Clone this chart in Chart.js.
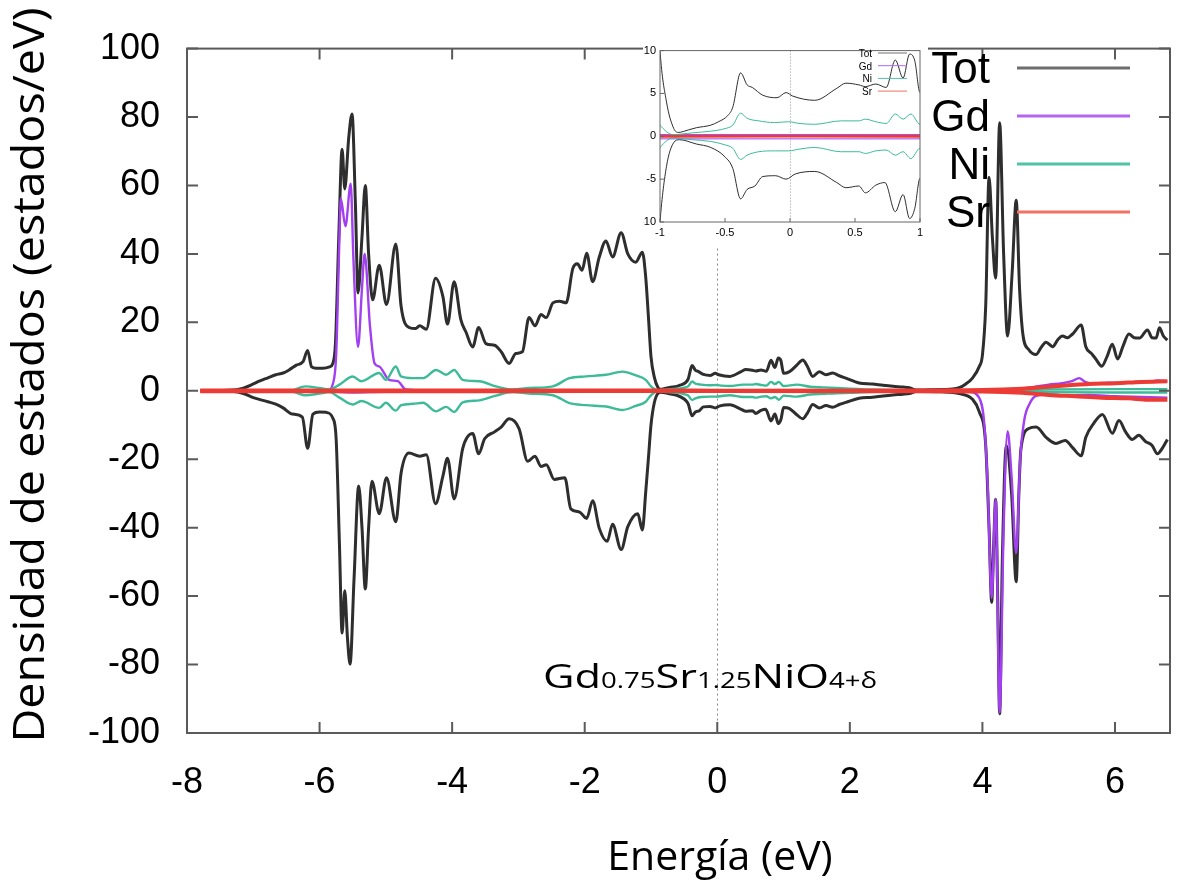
<!DOCTYPE html>
<html>
<head>
<meta charset="utf-8">
<title>Densidad de estados</title>
<script src="https://cdn.jsdelivr.net/npm/chart.js@4.4.1/dist/chart.umd.min.js"></script>
<style>
  html, body { margin: 0; padding: 0; background: #fff; }
  #wrap { position: relative; width: 1180px; height: 894px; }
  #inset { position: absolute; left: 643px; top: 40px; width: 285px; height: 208px; overflow: hidden; background: #fff; z-index: 2; }
</style>
</head>
<body>
<div id="wrap">
  <canvas id="dos" width="1180" height="894"></canvas>
  <div id="inset"><canvas id="zoom" width="285" height="208"></canvas></div>
</div>
<script>
// Spin-polarised DOS of Gd0.75Sr1.25NiO4+d: [energy (eV), states/eV]

const seriesNames = ['Tot', 'Gd', 'Ni', 'Sr'];
const lineColors = ['#2e2e2e', '#a23ff0', '#3dbb98', '#ec3b35'];
const keyColors = ['#6e6e6e', '#b466f2', '#4fc3a4', '#f27064'];

const totUp = [[-7.8, 0], [-7.3, 0.2], [-7.15, 0.8], [-7.0, 2.0], [-6.91, 2.8], [-6.78, 3.8], [-6.66, 4.7],
  [-6.55, 5.2], [-6.46, 6.1], [-6.35, 7.5], [-6.25, 8.5], [-6.18, 11.8], [-6.12, 7.0], [-6.05, 6.6],
  [-5.95, 6.6], [-5.85, 7.0], [-5.80, 8.0], [-5.76, 14], [-5.71, 45], [-5.66, 70.6], [-5.62, 59],
  [-5.56, 74], [-5.51, 80.9], [-5.46, 55], [-5.42, 28.6], [-5.36, 45], [-5.31, 60], [-5.26, 40],
  [-5.20, 26.6], [-5.10, 36.7], [-4.99, 25.2], [-4.85, 42.9], [-4.77, 24.7], [-4.65, 18.5], [-4.55, 18.2],
  [-4.49, 19.0], [-4.39, 18.0], [-4.25, 32.9], [-4.14, 27.6], [-4.07, 19.5], [-3.97, 31.9], [-3.87, 20.9],
  [-3.79, 17.1], [-3.69, 12.8], [-3.60, 18.5], [-3.49, 13.8], [-3.36, 13.3], [-3.26, 11.4], [-3.14, 8.0],
  [-3.04, 10.9], [-2.94, 11.4], [-2.84, 21.4], [-2.75, 19.0], [-2.66, 22.3], [-2.58, 21.4], [-2.48, 25.7],
  [-2.38, 26.2], [-2.28, 25.7], [-2.18, 35.7], [-2.11, 37.1], [-2.04, 35.2], [-1.97, 40.2], [-1.88, 31.9],
  [-1.78, 39.1], [-1.68, 43.8], [-1.58, 39.1], [-1.45, 46.2], [-1.35, 40.0], [-1.23, 37.6], [-1.13, 40.5],
  [-1.08, 33.3], [-1.04, 22], [-1.00, 10], [-0.95, 4], [-0.895, 0.94], [-0.86, 0.45], [-0.78, 0.75],
  [-0.72, 1.0], [-0.61, 1.3], [-0.55, 1.7], [-0.48, 2.4], [-0.44, 3.4], [-0.38, 7.4], [-0.33, 6.0],
  [-0.29, 5.7], [-0.21, 4.8], [-0.10, 4.5], [-0.03, 5.1], [0.02, 4.7], [0.19, 4.2], [0.36, 5.6], [0.43, 6.2],
  [0.53, 6.0], [0.58, 5.8], [0.66, 6.1], [0.74, 5.7], [0.81, 8.9], [0.87, 6.8], [0.92, 9.6], [0.96, 8.8],
  [1.00, 5.1], [1.09, 5.6], [1.20, 7.5], [1.29, 9.0], [1.36, 7.1], [1.44, 4.2], [1.54, 5.6], [1.64, 4.7],
  [1.74, 5.2], [1.84, 4.4], [1.94, 3.7], [2.14, 2.3], [2.34, 2.0], [2.50, 1.6], [2.65, 1.3], [2.80, 1.1],
  [2.90, 0.9], [3.00, 0.2], [3.20, 0.3], [3.40, 0.4], [3.55, 0.5], [3.65, 0.9], [3.75, 2.0], [3.85, 3.7],
  [3.95, 7.0], [4.00, 10.4], [4.05, 25], [4.10, 62.4], [4.15, 45], [4.20, 32.9], [4.26, 78.3], [4.32, 40],
  [4.38, 16.0], [4.45, 35], [4.51, 55.7], [4.56, 30], [4.61, 16.6], [4.70, 12], [4.81, 10.6], [4.88, 12.5],
  [4.96, 14.2], [5.06, 12.9], [5.14, 15], [5.21, 16.0], [5.28, 15.5], [5.36, 16.6], [5.49, 19.2], [5.56, 12.9],
  [5.64, 11], [5.71, 9.3], [5.80, 7.2], [5.88, 10], [5.96, 13.6], [6.04, 9.3], [6.12, 13], [6.21, 16.6],
  [6.29, 15.5], [6.37, 15.4], [6.49, 17.8], [6.56, 15.5], [6.62, 15.4], [6.67, 18.4], [6.73, 16], [6.79, 14.8]];

const totDown = [[-7.8, 0], [-7.3, -0.2], [-7.15, -0.8], [-7.0, -2.0], [-6.91, -2.5], [-6.78, -3.2],
  [-6.66, -3.9], [-6.55, -5.0], [-6.41, -6.8], [-6.26, -7.7], [-6.18, -16.8], [-6.10, -6.8], [-6.00, -6.2],
  [-5.90, -6.3], [-5.80, -8], [-5.75, -14], [-5.70, -45], [-5.66, -70.8], [-5.62, -58.4], [-5.58, -72],
  [-5.54, -79.9], [-5.48, -55], [-5.41, -27.8], [-5.36, -40], [-5.31, -57.9], [-5.26, -40], [-5.21, -26.4],
  [-5.10, -35.9], [-4.99, -25.4], [-4.85, -38.3], [-4.77, -24.0], [-4.65, -18.2], [-4.49, -19.1],
  [-4.39, -18.7], [-4.25, -33.0], [-4.14, -25], [-4.07, -19.7], [-3.97, -31.6], [-3.84, -16.8],
  [-3.69, -12.5], [-3.60, -18.4], [-3.51, -14], [-3.36, -12.0], [-3.26, -10.6], [-3.14, -8.2],
  [-2.99, -11.1], [-2.86, -20.6], [-2.75, -19.1], [-2.66, -22.1], [-2.58, -21.6], [-2.46, -25.9],
  [-2.30, -25.4], [-2.21, -34.5], [-2.08, -35.4], [-1.97, -37.3], [-1.88, -32.1], [-1.78, -40.2],
  [-1.66, -44], [-1.58, -39], [-1.45, -46.4], [-1.35, -39.7], [-1.20, -35.9], [-1.13, -40.7],
  [-1.08, -29.7], [-1.04, -20], [-1.00, -10], [-0.95, -3.5], [-0.895, -0.75], [-0.85, -0.4], [-0.72, -0.9],
  [-0.61, -1.3], [-0.50, -2.4], [-0.44, -3.75], [-0.38, -7.3], [-0.33, -6.2], [-0.27, -5.8], [-0.21, -4.7],
  [-0.11, -4.6], [-0.03, -5.0], [0.04, -4.4], [0.19, -4.1], [0.36, -5.4], [0.43, -6.0], [0.53, -5.8],
  [0.58, -6.6], [0.66, -5.7], [0.73, -5.4], [0.81, -8.8], [0.87, -6.8], [0.92, -9.6], [0.96, -8.4],
  [1.00, -4.9], [1.09, -5.2], [1.20, -7.0], [1.29, -8.2], [1.36, -6.5], [1.44, -4.0], [1.54, -5.0],
  [1.64, -4.3], [1.74, -4.8], [1.84, -4.0], [1.94, -3.4], [2.14, -2.2], [2.34, -1.9], [2.50, -1.5],
  [2.65, -1.2], [2.80, -1.0], [2.90, -0.8], [3.00, -0.2], [3.40, -0.3], [3.65, -0.8], [3.85, -2.5],
  [3.95, -6], [4.05, -16], [4.10, -40], [4.14, -61.8], [4.17, -45], [4.20, -31.7], [4.23, -60], [4.26, -94.4],
  [4.30, -50], [4.36, -16], [4.44, -30], [4.51, -55.8], [4.55, -30], [4.58, -17.2], [4.70, -11], [4.81, -10.6],
  [4.96, -13.6], [5.11, -15.4], [5.25, -14.5], [5.36, -16.6], [5.49, -19], [5.56, -13.6], [5.68, -9.5],
  [5.81, -6.9], [5.96, -12.4], [6.06, -8.7], [6.16, -12], [6.26, -14.2], [6.36, -13], [6.46, -14.8],
  [6.56, -16], [6.64, -18.4], [6.72, -16.6], [6.79, -14.2]];

const gdUp = [[-7.8, 0], [-5.88, 0], [-5.80, 2], [-5.75, 10.4], [-5.70, 45], [-5.68, 56.2], [-5.61, 48.1],
  [-5.53, 60.5], [-5.49, 39], [-5.42, 12.8], [-5.36, 30], [-5.32, 40], [-5.24, 19], [-5.17, 8.0],
  [-5.10, 7.1], [-4.95, 3.2], [-4.82, 2.8], [-4.70, 0.4], [-4.50, 0.2], [3.90, 0.2], [4.50, 0.5],
  [4.80, 1.2], [5.00, 1.8], [5.20, 2.2], [5.35, 2.8], [5.46, 3.7], [5.55, 2.6], [5.70, 2.0], [5.90, 2.4],
  [6.10, 2.2], [6.30, 2.6], [6.50, 2.7], [6.65, 3.0], [6.79, 2.8]];

const gdDown = [[-7.8, 0], [-5.8, -0.3], [-5.5, -0.5], [-5.0, -0.3], [3.80, -0.3], [3.95, -2], [4.03, -10],
  [4.08, -28], [4.14, -60.6], [4.20, -31.7], [4.26, -94], [4.32, -40], [4.38, -11.8], [4.44, -25],
  [4.51, -47.4], [4.57, -20], [4.63, -8.7], [4.72, -3.5], [4.81, -1.5], [5.00, -1.0], [5.30, -1.4],
  [5.60, -1.2], [6.00, -1.6], [6.40, -1.8], [6.79, -2.0]];

const niUp = [[-7.8, 0], [-6.46, 0], [-6.21, 1.3], [-6.00, 0.8], [-5.85, 0.4], [-5.70, 1.8], [-5.50, 4.2],
  [-5.37, 2.8], [-5.10, 5.2], [-5.00, 3.2], [-4.85, 7.1], [-4.77, 4.2], [-4.59, 3.7], [-4.44, 3.7],
  [-4.24, 6.1], [-4.09, 4.7], [-3.97, 6.1], [-3.84, 3.2], [-3.59, 2.8], [-3.34, 1.3], [-3.09, 0.4],
  [-2.84, 0.8], [-2.48, 1.3], [-2.23, 3.7], [-1.98, 4.2], [-1.68, 4.7], [-1.43, 5.6], [-1.23, 4.5],
  [-1.08, 3.2], [-1.00, 1.3], [-0.90, 0.2], [-0.75, 0.4], [-0.61, 0.6], [-0.50, 0.9], [-0.44, 1.3],
  [-0.38, 2.7], [-0.33, 2.1], [-0.24, 1.8], [-0.12, 1.6], [-0.01, 1.7], [0.07, 1.5], [0.19, 1.4],
  [0.39, 1.8], [0.53, 1.8], [0.58, 2.0], [0.66, 1.7], [0.74, 1.5], [0.81, 2.6], [0.87, 2.0], [0.93, 2.6],
  [1.00, 1.4], [1.20, 1.8], [1.40, 1.2], [1.60, 1.0], [1.80, 0.8], [2.00, 0.6], [2.40, 0.3], [3.00, 0.1],
  [4.00, 0.1], [5.00, 0.4], [6.00, 0.5], [6.79, 0.5]];

const niDown = [[-7.8, 0], [-6.46, 0], [-6.21, -1.3], [-6.00, -0.8], [-5.85, -0.4], [-5.70, -2.0],
  [-5.50, -4.0], [-5.37, -3.0], [-5.10, -5.0], [-5.00, -3.5], [-4.85, -5.8], [-4.77, -4.2], [-4.59, -3.8],
  [-4.44, -3.5], [-4.24, -6.0], [-4.09, -4.7], [-3.97, -6.2], [-3.84, -3.4], [-3.59, -2.8], [-3.34, -1.4],
  [-3.09, -0.4], [-2.84, -0.8], [-2.48, -1.3], [-2.23, -3.6], [-1.98, -4.2], [-1.68, -4.6], [-1.43, -5.6],
  [-1.23, -4.4], [-1.08, -3.2], [-1.00, -1.3], [-0.90, -0.2], [-0.75, -0.4], [-0.61, -0.6], [-0.50, -1.0],
  [-0.44, -1.4], [-0.38, -2.7], [-0.33, -2.2], [-0.24, -1.8], [-0.12, -1.7], [-0.01, -1.7], [0.07, -1.5],
  [0.19, -1.3], [0.39, -1.8], [0.53, -1.8], [0.58, -2.0], [0.66, -1.7], [0.74, -1.6], [0.81, -2.2],
  [0.87, -1.8], [0.93, -2.6], [1.00, -1.4], [1.20, -1.7], [1.40, -1.1], [1.60, -0.9], [1.80, -0.7],
  [2.00, -0.6], [2.40, -0.3], [3.00, -0.1], [4.00, -0.1], [5.00, -0.4], [6.00, -0.5], [6.79, -0.5]];

const srUp = [[-7.8, 0.1], [-4.0, 0.1], [0.0, 0.05], [3.0, 0.1], [4.0, 0.2], [4.6, 0.6], [5.0, 1.2],
  [5.3, 1.6], [5.6, 2.0], [6.0, 2.2], [6.4, 2.6], [6.79, 2.8]];

const srDown = [[-7.8, -0.1], [-4.0, -0.1], [0.0, -0.05], [3.0, -0.1], [4.0, -0.2], [4.6, -0.6], [5.0, -1.2],
  [5.4, -1.6], [5.8, -2.0], [6.2, -2.2], [6.5, -2.6], [6.79, -2.6]];

const formula = [['Gd', 'big'], ['0.75', 'sub'], ['Sr', 'big'], ['1.25', 'sub'], ['NiO', 'big'], ['4+δ', 'sub']];

const series = [
  { up: totUp, down: totDown, order: 3 },
  { up: gdUp, down: gdDown, order: 2 },
  { up: niUp, down: niDown, order: 1 },
  { up: srUp, down: srDown, order: 0 }
];

function makeSets(widths) {
  const sets = [];
  series.forEach((s, i) => {
    [s.up, s.down].forEach(pts => sets.push({
      label: seriesNames[i],
      data: pts.map(([x, y]) => ({ x, y })),
      borderColor: lineColors[i],
      borderWidth: widths[i],
      pointRadius: 0,
      fill: false,
      cubicInterpolationMode: 'monotone',
      order: s.order
    }));
  });
  return sets;
}

// box round the plot with inward ticks, gnuplot style
const framePlugin = {
  id: 'frame',
  afterDatasetsDraw(chart, args, o) {
    const { ctx, chartArea: a, scales: { x, y } } = chart;
    ctx.save();
    ctx.strokeStyle = o.color;
    ctx.lineWidth = o.width;
    ctx.strokeRect(a.left, a.top, a.right - a.left, a.bottom - a.top);
    ctx.beginPath();
    x.ticks.forEach(t => {
      const px = x.getPixelForValue(t.value);
      ctx.moveTo(px, a.bottom); ctx.lineTo(px, a.bottom - o.tick);
      if (o.mirror) { ctx.moveTo(px, a.top); ctx.lineTo(px, a.top + o.tick); }
    });
    y.ticks.forEach(t => {
      const py = y.getPixelForValue(t.value);
      ctx.moveTo(a.left, py); ctx.lineTo(a.left + o.tick, py);
      if (o.mirror) { ctx.moveTo(a.right, py); ctx.lineTo(a.right - o.tick, py); }
    });
    ctx.stroke();
    ctx.restore();
  }
};

// dotted Fermi level
const fermiPlugin = {
  id: 'fermi',
  beforeDatasetsDraw(chart, args, o) {
    const { ctx, chartArea: a, scales: { x } } = chart;
    const px = Math.round(x.getPixelForValue(0)) + 0.5;
    ctx.save();
    ctx.strokeStyle = o.color;
    ctx.lineWidth = 1;
    ctx.setLineDash(o.dash);
    ctx.beginPath();
    ctx.moveTo(px, a.top);
    ctx.lineTo(px, a.bottom);
    ctx.stroke();
    ctx.restore();
  }
};

// key: label right-aligned, sample line on its right
const keyPlugin = {
  id: 'key',
  afterDraw(chart, args, o) {
    const ctx = chart.ctx;
    ctx.save();
    ctx.font = o.font;
    ctx.textAlign = 'right';
    ctx.textBaseline = 'alphabetic';
    seriesNames.forEach((name, i) => {
      const y = o.top + i * o.gap;
      ctx.fillStyle = '#000';
      ctx.fillText(name, o.textRight, y + o.baseline);
      ctx.strokeStyle = keyColors[i];
      ctx.lineWidth = o.lineWidth;
      ctx.beginPath();
      ctx.moveTo(o.x0, y);
      ctx.lineTo(o.x1, y);
      ctx.stroke();
    });
    ctx.restore();
  }
};

const labelsPlugin = {
  id: 'labels',
  afterDraw(chart) {
    const ctx = chart.ctx;
    ctx.save();
    ctx.fillStyle = '#000';

    // x title
    ctx.font = '41px "Open Sans"';
    ctx.textAlign = 'center';
    ctx.textBaseline = 'middle';
    ctx.fillText('Energía (eV)', 720, 858);

    // y title, stretched to the length it has in the figure
    const yTitle = 'Densidad de estados (estados/eV)';
    ctx.font = '43px "Open Sans"';
    const w = ctx.measureText(yTitle).width;
    ctx.save();
    ctx.translate(44, 375);
    ctx.rotate(-Math.PI / 2);
    ctx.scale(735 / w, 1);
    ctx.textBaseline = 'alphabetic';
    ctx.fillText(yTitle, 0, 0);
    ctx.restore();

    // compound formula with subscripts
    const fonts = { big: '33px "Open Sans"', sub: '21px "Open Sans"' };
    let total = 0;
    formula.forEach(([txt, k]) => { ctx.font = fonts[k]; total += ctx.measureText(txt).width; });
    ctx.save();
    ctx.translate(543, 688);
    ctx.scale(334 / total, 1);
    ctx.textAlign = 'left';
    ctx.textBaseline = 'alphabetic';
    let cx = 0;
    formula.forEach(([txt, k]) => {
      ctx.font = fonts[k];
      ctx.fillText(txt, cx, 0);
      cx += ctx.measureText(txt).width;
    });
    ctx.restore();
    ctx.restore();
  }
};

const tickFont = { family: '"Liberation Sans", Arial, sans-serif', size: 36 };

new Chart(document.getElementById('dos'), {
  type: 'line',
  data: { datasets: makeSets([3, 2.4, 2.4, 4]) },
  options: {
    responsive: false,
    animation: false,
    layout: { padding: { top: 34, right: 10, left: 0, bottom: 0 } },
    plugins: {
      legend: { display: false },
      tooltip: { enabled: false },
      frame: { color: '#5a5a5a', width: 2, tick: 11, mirror: true },
      fermi: { color: '#8a8a8a', dash: [2, 3] },
      key: { font: '44px "Liberation Sans", Arial', textRight: 990, x0: 1017, x1: 1130,
             top: 68, gap: 48, baseline: 15, lineWidth: 3 }
    },
    scales: {
      x: {
        type: 'linear', min: -8, max: 6.83,
        ticks: { stepSize: 2, includeBounds: false, font: tickFont, color: '#000', padding: 28, maxRotation: 0, autoSkip: false },
        grid: { display: false, drawTicks: false },
        border: { display: false },
        afterFit(s) { s.height = 161; }
      },
      y: {
        min: -100, max: 100,
        ticks: { stepSize: 20, font: tickFont, color: '#000', padding: 27 },
        grid: { display: false, drawTicks: false },
        border: { display: false },
        afterFit(s) { s.width = 187; }
      }
    }
  },
  plugins: [fermiPlugin, framePlugin, keyPlugin, labelsPlugin]
});

const smallFont = { family: '"Liberation Sans", Arial, sans-serif', size: 11 };
const plain = v => String(v);

// inset: same curves around the Fermi level
new Chart(document.getElementById('zoom'), {
  type: 'line',
  data: { datasets: makeSets([1, 1, 1, 1.6]) },
  options: {
    responsive: false,
    animation: false,
    layout: { padding: { top: 4, right: 8, left: 0, bottom: 0 } },
    plugins: {
      legend: { display: false },
      tooltip: { enabled: false },
      frame: { color: '#666', width: 1, tick: 4, mirror: false },
      fermi: { color: '#999', dash: [1, 2] },
      key: { font: '10px "Liberation Sans", Arial', textRight: 229, x0: 235, x1: 264,
             top: 13, gap: 12.7, baseline: 4, lineWidth: 1 }
    },
    scales: {
      x: {
        type: 'linear', min: -1, max: 1,
        ticks: { stepSize: 0.5, font: smallFont, color: '#000', padding: 4, maxRotation: 0, autoSkip: false, callback: plain },
        grid: { display: false, drawTicks: false },
        border: { display: false },
        afterFit(s) { s.height = 26; }
      },
      y: {
        min: -10, max: 10,
        ticks: { stepSize: 5, font: smallFont, color: '#000', padding: 4, callback: plain },
        grid: { display: false, drawTicks: false },
        border: { display: false },
        afterFit(s) { s.width = 17; }
      }
    }
  },
  plugins: [fermiPlugin, framePlugin, keyPlugin]
});
</script>
</body>
</html>
